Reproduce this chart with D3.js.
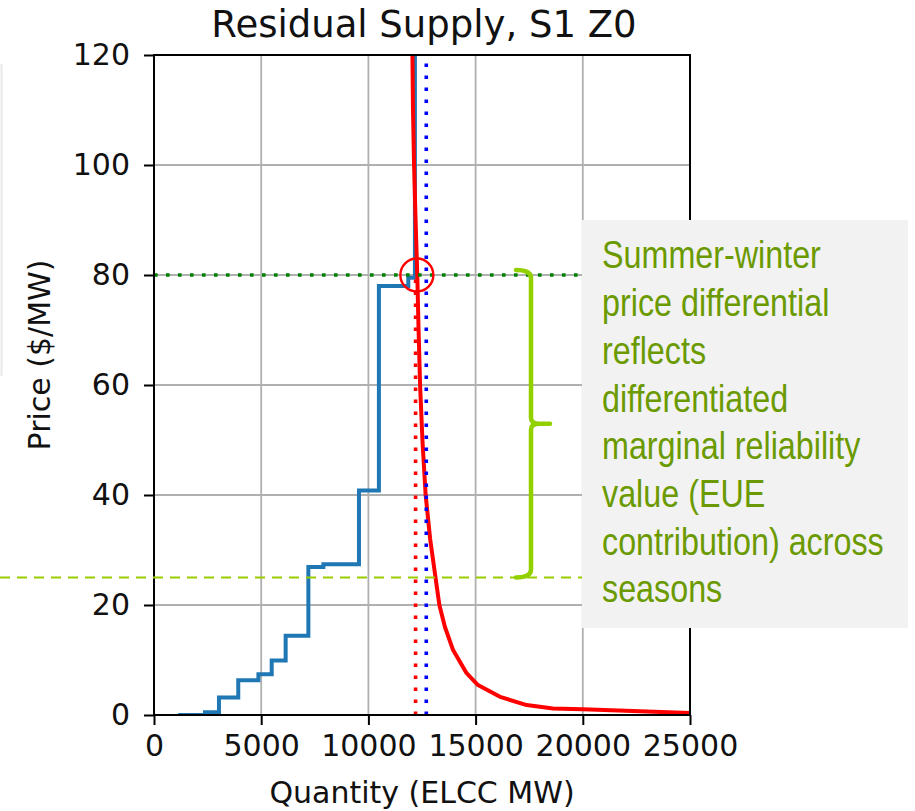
<!DOCTYPE html>
<html>
<head>
<meta charset="utf-8">
<script src="https://cdn.jsdelivr.net/npm/d3@7"></script>
<style>
  body { margin: 0; background: #fff; }
  svg { display: block; }
</style>
</head>
<body>
<svg width="915" height="811"></svg>
<script>
// ticks
var xTicks = [0, 5000, 10000, 15000, 20000, 25000];
var yTicks = [0, 20, 40, 60, 80, 100, 120];

// residual supply (blue step), step-after points
var stepQty   = [1130, 2380, 3030, 3930, 4870, 5490, 6140, 7200, 7900, 9560, 10490, 11860, 12170];
var stepPrice = [0,    0.5,  3.2,  6.3,  7.4,  9.9,  14.4, 26.9, 27.4, 40.8, 78,    79.5,  125];

// demand curve (red)
var curveQty   = [12040, 12080, 12130, 12200, 12280, 12340, 12410, 12520, 12670, 12880, 13130, 13310, 13570, 13950, 14580, 15110, 16140, 17380, 18610, 20000, 25000];
var curvePrice = [125,   110,   100,   90,    80,    70,    60,    50,    40,    32,    25,    20,    16,    11.8,  7.6,   5.45,  3.3,   1.8,   1.2,   1.04,  0.36];

// reference lines
var clearQty = 12200;   // red dotted
var blueQty = 12700;    // blue dotted
var capPrice = 80;      // green dotted
var lowPrice = 25;      // green dashed overlay

var noteLines = ["Summer-winter", "price differential", "reflects", "differentiated",
  "marginal reliability", "value (EUE", "contribution) across", "seasons"];

var svg = d3.select("svg"),
    margin = {top: 55, right: 225, bottom: 96, left: 154},
    width = +svg.attr("width") - margin.left - margin.right,
    height = +svg.attr("height") - margin.top - margin.bottom;

var x = d3.scaleLinear().domain([0, 25000]).range([0, width]);
var y = d3.scaleLinear().domain([0, 120]).range([height, 0]);

// faint edge of a neighbouring box on the far left
svg.append("rect")
    .attr("x", -10).attr("y", 65).attr("width", 12).attr("height", 310)
    .attr("fill", "#f4f4f4").attr("stroke", "#e2e2e2");

svg.append("text")
    .attr("x", margin.left + width / 2 + 2)
    .attr("y", 37)
    .attr("text-anchor", "middle")
    .attr("font-family", "DejaVu Sans")
    .attr("font-size", 37)
    .attr("fill", "#111")
    .text("Residual Supply, S1 Z0");

var g = svg.append("g").attr("transform", "translate(" + margin.left + "," + margin.top + ")");

g.append("clipPath").attr("id", "plot")
  .append("rect").attr("width", width).attr("height", height);

// grid
g.append("g").selectAll("line").data(xTicks).enter().append("line")
    .attr("x1", x).attr("x2", x).attr("y1", 0).attr("y2", height)
    .attr("stroke", "#b0b0b0").attr("stroke-width", 1.8);
g.append("g").selectAll("line").data(yTicks).enter().append("line")
    .attr("y1", y).attr("y2", y).attr("x1", 0).attr("x2", width)
    .attr("stroke", "#b0b0b0").attr("stroke-width", 1.8);

var plot = g.append("g").attr("clip-path", "url(#plot)");

var stepData = stepQty.map(function(q, i) { return [q, stepPrice[i]]; });
plot.append("path")
    .datum(stepData)
    .attr("fill", "none")
    .attr("stroke", "#1f77b4")
    .attr("stroke-width", 4)
    .attr("d", d3.line().x(function(d) { return x(d[0]); }).y(function(d) { return y(d[1]); }).curve(d3.curveStepAfter));

var curveData = curveQty.map(function(q, i) { return [q, curvePrice[i]]; });
plot.append("path")
    .datum(curveData)
    .attr("fill", "none")
    .attr("stroke", "#ff0000")
    .attr("stroke-width", 4)
    .attr("stroke-linejoin", "round")
    .attr("d", d3.line().x(function(d) { return x(d[0]); }).y(function(d) { return y(d[1]); }));

plot.append("line")
    .attr("x1", x(clearQty)).attr("x2", x(clearQty))
    .attr("y1", y(0)).attr("y2", y(capPrice))
    .attr("stroke", "#ff0000").attr("stroke-width", 3.6)
    .attr("stroke-dasharray", "3.6 8.4");

plot.append("line")
    .attr("x1", x(blueQty)).attr("x2", x(blueQty))
    .attr("y1", y(0)).attr("y2", y(120))
    .attr("stroke", "#0000ff").attr("stroke-width", 3.6)
    .attr("stroke-dasharray", "3.6 8.4");

plot.append("line")
    .attr("x1", 0).attr("x2", width)
    .attr("y1", y(capPrice)).attr("y2", y(capPrice))
    .attr("stroke", "#008000").attr("stroke-width", 3.6)
    .attr("stroke-dasharray", "3.6 8.4");

// axes
var xAxis = g.append("g")
    .attr("transform", "translate(0," + height + ")")
    .call(d3.axisBottom(x).tickValues(xTicks).tickSize(10).tickPadding(10).tickFormat(d3.format("d")));
var yAxis = g.append("g")
    .call(d3.axisLeft(y).tickValues(yTicks).tickSize(10).tickPadding(14));
[xAxis, yAxis].forEach(function(a) {
  a.select(".domain").remove();
  a.selectAll("line").attr("stroke", "#000").attr("stroke-width", 2);
  a.selectAll("text").attr("font-family", "DejaVu Sans").attr("font-size", 30).attr("fill", "#111");
});

// spines
g.append("rect")
    .attr("width", width).attr("height", height)
    .attr("fill", "none").attr("stroke", "#000").attr("stroke-width", 2);

svg.append("text")
    .attr("x", margin.left + width / 2)
    .attr("y", 803)
    .attr("text-anchor", "middle")
    .attr("font-family", "DejaVu Sans")
    .attr("font-size", 30)
    .attr("fill", "#111")
    .text("Quantity (ELCC MW)");

svg.append("text")
    .attr("transform", "translate(50," + (margin.top + height / 2 - 30) + ") rotate(-90)")
    .attr("text-anchor", "middle")
    .attr("font-family", "DejaVu Sans")
    .attr("font-size", 30)
    .attr("fill", "#111")
    .text("Price ($/MW)");

// overlays
g.append("circle")
    .attr("cx", x(12260)).attr("cy", y(capPrice)).attr("r", 16.5)
    .attr("fill", "none").attr("stroke", "#ff0000").attr("stroke-width", 2.4);

svg.append("line")
    .attr("x1", 0).attr("x2", 582)
    .attr("y1", margin.top + y(lowPrice)).attr("y2", margin.top + y(lowPrice))
    .attr("stroke", "#99cc00").attr("stroke-width", 2)
    .attr("stroke-dasharray", "10 7");

var bTop = margin.top + y(capPrice) - 5, bBot = margin.top + y(lowPrice),
    bMid = (bTop + bBot) / 2, bx = 531;
svg.append("path")
    .attr("d", "M516," + bTop + " Q" + bx + "," + bTop + " " + bx + "," + (bTop + 8) +
      " L" + bx + "," + (bMid - 6) + " Q" + bx + "," + bMid + " " + (bx + 8) + "," + bMid +
      " L550," + bMid + " M" + (bx + 8) + "," + bMid + " Q" + bx + "," + bMid + " " + bx + "," + (bMid + 6) +
      " L" + bx + "," + (bBot - 8) + " Q" + bx + "," + bBot + " 516," + bBot)
    .attr("fill", "none").attr("stroke", "#92d000").attr("stroke-width", 4.5)
    .attr("stroke-linecap", "round");

svg.append("rect")
    .attr("x", 582).attr("y", 220).attr("width", 326).attr("height", 408)
    .attr("fill", "#f2f2f2");

var note = svg.append("g")
    .attr("transform", "translate(602,0) scale(0.85,1)")
    .attr("font-family", "Liberation Sans, Arial, sans-serif")
    .attr("font-size", 38)
    .attr("fill", "#6b9a00");
note.selectAll("text").data(noteLines).enter().append("text")
    .attr("x", 0)
    .attr("y", function(d, i) { return 268.5 + i * 47.7; })
    .text(function(d) { return d; });
</script>
</body>
</html>
